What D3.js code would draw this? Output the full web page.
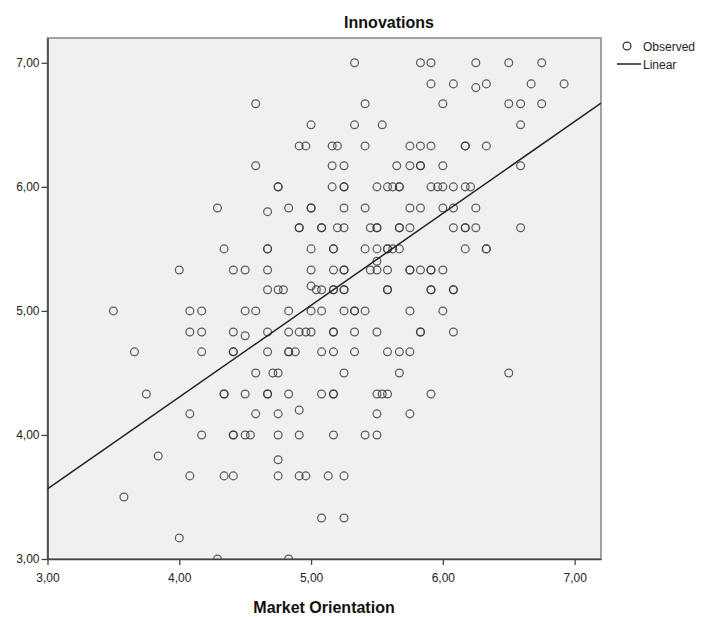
<!DOCTYPE html>
<html>
<head>
<meta charset="utf-8">
<script src="https://cdn.jsdelivr.net/npm/d3@7"></script>
<style>
  body { margin: 0; background: #fff; }
  text { font-family: "Liberation Sans", Arial, sans-serif; }
</style>
</head>
<body>
<div id="chart"></div>
<script>
// observed points, grouped by Innovations level (y) with their Market Orientation values (x)
const yLevels = [7.00, 6.83, 6.80, 6.67, 6.50, 6.33, 6.17, 6.00, 5.83, 5.80, 5.67, 5.50, 5.40, 5.33, 5.20, 5.17,
  5.00, 4.83, 4.80, 4.67, 4.50, 4.33, 4.20, 4.17, 4.00, 3.83, 3.80, 3.67, 3.50, 3.33, 3.17, 3.00];
const xByLevel = [
  [5.33, 5.83, 5.91, 6.25, 6.50, 6.75],
  [5.91, 6.08, 6.33, 6.67, 6.92],
  [6.25],
  [4.58, 5.41, 6.00, 6.50, 6.59, 6.75],
  [5.00, 5.33, 5.54, 6.59],
  [4.91, 4.96, 5.16, 5.20, 5.41, 5.75, 5.83, 5.91, 6.17, 6.17, 6.33],
  [4.58, 5.16, 5.25, 5.65, 5.75, 5.83, 5.83, 6.00, 6.59],
  [4.75, 4.75, 5.16, 5.25, 5.25, 5.50, 5.58, 5.62, 5.67, 5.67, 5.91, 5.96, 6.00, 6.08, 6.17, 6.21],
  [4.29, 4.83, 5.00, 5.00, 5.25, 5.41, 5.75, 5.83, 6.00, 6.08, 6.25],
  [4.67],
  [4.91, 4.91, 5.08, 5.08, 5.20, 5.25, 5.45, 5.50, 5.50, 5.67, 5.67, 5.75, 6.08, 6.17, 6.17, 6.25, 6.59],
  [4.34, 4.67, 4.67, 5.00, 5.17, 5.17, 5.41, 5.50, 5.58, 5.58, 5.62, 5.67, 6.17, 6.33, 6.33],
  [5.50],
  [4.00, 4.41, 4.50, 4.67, 5.00, 5.17, 5.25, 5.25, 5.45, 5.50, 5.58, 5.75, 5.75, 5.83, 5.91, 5.91, 6.00],
  [5.00],
  [4.67, 4.75, 4.79, 5.04, 5.08, 5.17, 5.17, 5.25, 5.25, 5.58, 5.58, 5.91, 5.91, 6.08, 6.08],
  [3.50, 4.08, 4.17, 4.50, 4.58, 4.83, 5.00, 5.08, 5.25, 5.33, 5.33, 5.41, 5.75, 6.00],
  [4.08, 4.17, 4.41, 4.67, 4.83, 4.91, 4.96, 5.00, 5.17, 5.17, 5.33, 5.50, 5.83, 5.83, 6.08],
  [4.50],
  [3.66, 4.17, 4.41, 4.41, 4.67, 4.83, 4.83, 4.88, 5.08, 5.17, 5.33, 5.58, 5.67, 5.75],
  [4.58, 4.71, 4.75, 5.25, 5.67, 6.50],
  [3.75, 4.34, 4.34, 4.50, 4.67, 4.67, 4.83, 5.08, 5.17, 5.17, 5.50, 5.54, 5.58, 5.91],
  [4.91],
  [4.08, 4.58, 4.75, 5.50, 5.75],
  [4.17, 4.41, 4.41, 4.50, 4.54, 4.75, 4.91, 5.17, 5.41, 5.50],
  [3.84],
  [4.75],
  [4.08, 4.34, 4.41, 4.75, 4.91, 4.96, 5.13, 5.25],
  [3.58],
  [5.08, 5.25],
  [4.00],
  [4.29, 4.83]
];
// linear fit
const fitIntercept = 1.343;
const fitSlope = 0.7405;
const tickValues = [3, 4, 5, 6, 7];

const width = 707, height = 617;
const plot = { left: 47.5, right: 601, top: 38, bottom: 559 };

const points = [];
yLevels.forEach((y, i) => xByLevel[i].forEach(x => points.push({ x: x, y: y })));

const svg = d3.select('#chart').append('svg')
  .attr('width', width)
  .attr('height', height);

const xScale = d3.scaleLinear().domain([3, 7.2]).range([plot.left, plot.right]);
const yScale = d3.scaleLinear().domain([3, 7.2]).range([plot.bottom, plot.top]);
const fmt = v => d3.format('.2f')(v).replace('.', ',');

// plot background and frame
svg.append('rect')
  .attr('x', plot.left).attr('y', plot.top)
  .attr('width', plot.right - plot.left).attr('height', plot.bottom - plot.top)
  .attr('fill', '#f0f0f0')
  .attr('stroke', '#8c8c8c')
  .attr('stroke-width', 1.6);

svg.append('clipPath').attr('id', 'clip')
  .append('rect')
  .attr('x', plot.left).attr('y', plot.top)
  .attr('width', plot.right - plot.left).attr('height', plot.bottom - plot.top);

const xAxis = svg.append('g')
  .attr('transform', 'translate(0,' + plot.bottom + ')')
  .call(d3.axisBottom(xScale).tickValues(tickValues).tickFormat(fmt).tickSize(6).tickSizeOuter(0).tickPadding(8));

const yAxis = svg.append('g')
  .attr('transform', 'translate(' + plot.left + ',0)')
  .call(d3.axisLeft(yScale).tickValues(tickValues).tickFormat(fmt).tickSize(6).tickSizeOuter(0).tickPadding(2));

[xAxis, yAxis].forEach(g => {
  g.select('.domain').attr('stroke', '#444').attr('stroke-width', 1.6);
  g.selectAll('.tick line').attr('stroke', '#444').attr('stroke-width', 1.3);
  g.selectAll('.tick text')
    .attr('fill', '#222')
    .style('font-size', '12px')
    .style('font-family', '"Liberation Sans", Arial, sans-serif');
});

const chart = svg.append('g').attr('clip-path', 'url(#clip)');

chart.selectAll('.dot')
  .data(points)
  .enter().append('circle')
  .attr('class', 'dot')
  .attr('r', 3.9)
  .attr('cx', d => xScale(d.x))
  .attr('cy', d => yScale(d.y))
  .attr('fill', 'none')
  .attr('stroke', '#333')
  .attr('stroke-opacity', 0.78)
  .attr('stroke-width', 1.25);

const fitLine = d3.line()
  .x(d => xScale(d))
  .y(d => yScale(fitIntercept + fitSlope * d));

chart.append('path')
  .datum([3, 7.2])
  .attr('d', fitLine)
  .attr('fill', 'none')
  .attr('stroke', '#222')
  .attr('stroke-width', 1.5);

// titles
svg.append('text')
  .attr('x', 389).attr('y', 28)
  .attr('text-anchor', 'middle')
  .style('font-size', '16px')
  .style('font-weight', 'bold')
  .attr('fill', '#111')
  .text('Innovations');

svg.append('text')
  .attr('x', 324).attr('y', 613)
  .attr('text-anchor', 'middle')
  .style('font-size', '16px')
  .style('font-weight', 'bold')
  .attr('fill', '#111')
  .text('Market Orientation');

// legend
const legend = svg.append('g');
legend.append('circle')
  .attr('cx', 627).attr('cy', 46).attr('r', 3.9)
  .attr('fill', 'none').attr('stroke', '#333').attr('stroke-width', 1.25);
legend.append('text')
  .attr('x', 643).attr('y', 51)
  .style('font-size', '12px').attr('fill', '#222')
  .text('Observed');
legend.append('line')
  .attr('x1', 617).attr('x2', 641).attr('y1', 64).attr('y2', 64)
  .attr('stroke', '#222').attr('stroke-width', 1.5);
legend.append('text')
  .attr('x', 643).attr('y', 69)
  .style('font-size', '12px').attr('fill', '#222')
  .text('Linear');
</script>
</body>
</html>
